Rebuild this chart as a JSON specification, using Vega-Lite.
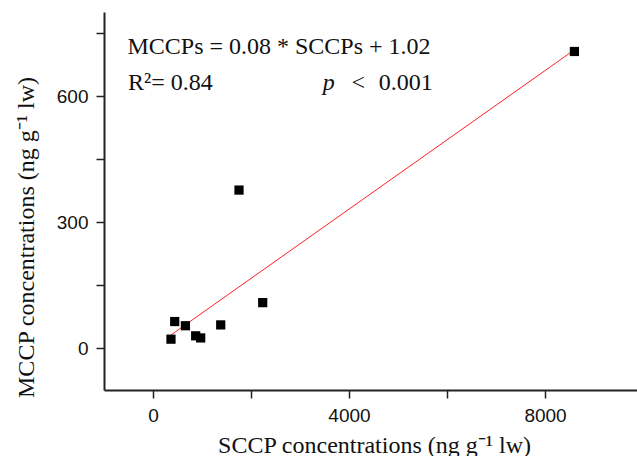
{
  "$schema": "https://vega.github.io/schema/vega-lite/v6.json",
  "width": 533,
  "height": 378,
  "padding": {"left": 104, "top": 12, "right": 0, "bottom": 66},
  "autosize": {"type": "none"},
  "background": "white",
  "config": {
    "view": {"stroke": null},
    "axis": {
      "grid": false,
      "domainColor": "#222",
      "domainWidth": 2,
      "tickColor": "#222",
      "tickWidth": 1.5,
      "tickSize": 8,
      "labelFont": "Liberation Sans",
      "labelFontSize": 19,
      "labelColor": "#111",
      "titleFont": "Liberation Serif",
      "titleFontSize": 24,
      "titleFontWeight": "normal",
      "titleColor": "#111"
    }
  },
  "datasets": {
    "points": [
      {"SCCP": 367, "MCCP": 21},
      {"SCCP": 443, "MCCP": 63},
      {"SCCP": 661, "MCCP": 53},
      {"SCCP": 871, "MCCP": 29},
      {"SCCP": 973, "MCCP": 24},
      {"SCCP": 1382, "MCCP": 55},
      {"SCCP": 1755, "MCCP": 376},
      {"SCCP": 2239, "MCCP": 108},
      {"SCCP": 8600, "MCCP": 706}
    ],
    "fit": [
      {"SCCP": 367, "MCCP": 31},
      {"SCCP": 8600, "MCCP": 710}
    ],
    "notes": [
      {"SCCP": -522, "MCCP": 700, "text": "MCCPs = 0.08 * SCCPs + 1.02"},
      {"SCCP": -510, "MCCP": 614, "text": "R²= 0.84"},
      {"SCCP": 4049, "MCCP": 614, "text": "<"},
      {"SCCP": 4606, "MCCP": 614, "text": "0.001"}
    ],
    "pnote": [
      {"SCCP": 3463, "MCCP": 614, "text": "p"}
    ]
  },
  "encoding": {
    "x": {
      "field": "SCCP",
      "type": "quantitative",
      "scale": {"domain": [-1000, 9877], "nice": false, "zero": false},
      "axis": {
        "values": [0, 2000, 4000, 6000, 8000],
        "labelExpr": "datum.value % 4000 == 0 ? datum.label : ''",
        "format": "d",
        "labelPadding": 8,
        "title": "SCCP concentrations (ng g⁻¹ lw)",
        "titleX": 270,
        "titleY": 62,
        "titleBaseline": "alphabetic",
        "titleAlign": "center"
      }
    },
    "y": {
      "field": "MCCP",
      "type": "quantitative",
      "scale": {"domain": [-100, 800], "nice": false, "zero": false},
      "axis": {
        "values": [0, 150, 300, 450, 600, 750],
        "labelExpr": "datum.value % 300 == 0 ? datum.label : ''",
        "labelPadding": 8,
        "title": "MCCP concentrations (ng g⁻¹ lw)",
        "titleX": -71,
        "titleY": 225,
        "titleAngle": 270,
        "titleBaseline": "alphabetic",
        "titleAlign": "center"
      }
    }
  },
  "layer": [
    {
      "mark": {"type": "rule", "color": "#222", "strokeWidth": 2},
      "encoding": {"x": null, "y": {"datum": 800}}
    },
    {
      "data": {"name": "fit"},
      "mark": {"type": "line", "color": "#ff2020", "strokeWidth": 1}
    },
    {
      "data": {"name": "points"},
      "mark": {"type": "point", "shape": "square", "filled": true, "color": "black", "size": 85, "opacity": 1}
    },
    {
      "data": {"name": "notes"},
      "mark": {"type": "text", "align": "left", "baseline": "alphabetic", "font": "Liberation Serif", "fontSize": 24, "color": "#111"},
      "encoding": {"text": {"field": "text"}}
    },
    {
      "data": {"name": "pnote"},
      "mark": {"type": "text", "align": "left", "baseline": "alphabetic", "font": "Liberation Serif", "fontSize": 24, "fontStyle": "italic", "color": "#111"},
      "encoding": {"text": {"field": "text"}}
    }
  ]
}
